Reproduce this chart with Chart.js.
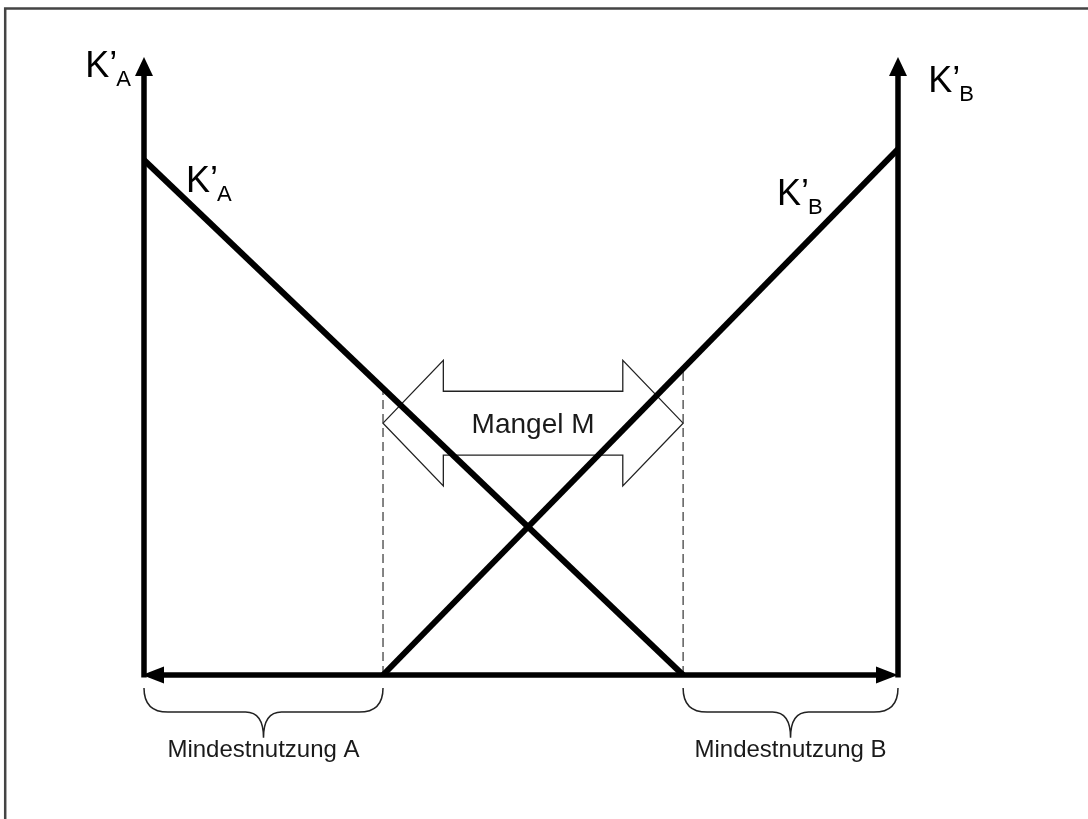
<!DOCTYPE html>
<html>
<head>
<meta charset="utf-8">
<script src="https://cdn.jsdelivr.net/npm/chart.js@4"></script>
<style>
  body { margin: 0; background: #fff; }
  canvas { display: block; }
</style>
</head>
<body>
<canvas id="myChart" width="1088" height="819"></canvas>
<script>
// values in chart units (left axis x=0, right axis x=10, bottom axis y=0)
var axisX = [0, 10];
var axisTop = 12;
var kaX = [0, 7.15];
var kaY = [10, 0];
var kbX = [3.17, 10];
var kbY = [0, 10.21];
var dashX = [3.17, 7.15];
var dashTop = [5.57, 5.95];
var mangelY = 4.89;
var mangelHead = 1.22;
var mangelShaft = 0.62;
var mangelHeadLen = 0.8;
var braceFrom = [0, 7.15];
var braceTo = [3.17, 10];
var braceLabels = ["Mindestnutzung A", "Mindestnutzung B"];
var mangelLabel = "Mangel M";
// [text, subscript, x, y]
var kLabels = [
    ["K\u2019", "A", -0.78, 11.61],
    ["K\u2019", "B", 10.40, 11.32],
    ["K\u2019", "A", 0.557, 9.38],
    ["K\u2019", "B", 8.395, 9.13]
];

var FONT = "'Liberation Sans', Arial, sans-serif";

function pts(xs, ys) {
    var out = [];
    for (var i = 0; i < xs.length; i++) {
        out.push({ x: xs[i], y: ys[i] });
    }
    return out;
}

var drawPlugin = {
    id: "drawPlugin",
    beforeDatasetsDraw: function (chart) {
        var ctx = chart.ctx;
        var sx = chart.scales.x, sy = chart.scales.y;
        function px(v) { return sx.getPixelForValue(v); }
        function py(v) { return sy.getPixelForValue(v); }

        ctx.save();
        // frame
        ctx.strokeStyle = "#444";
        ctx.lineWidth = 2.5;
        ctx.beginPath();
        ctx.moveTo(5.2, 819);
        ctx.lineTo(5.2, 8.5);
        ctx.lineTo(1088, 8.5);
        ctx.stroke();

        // hollow double arrow "Mangel M"
        var l = dashX[0], r = dashX[1];
        var poly = [
            [l, mangelY],
            [l + mangelHeadLen, mangelY + mangelHead],
            [l + mangelHeadLen, mangelY + mangelShaft],
            [r - mangelHeadLen, mangelY + mangelShaft],
            [r - mangelHeadLen, mangelY + mangelHead],
            [r, mangelY],
            [r - mangelHeadLen, mangelY - mangelHead],
            [r - mangelHeadLen, mangelY - mangelShaft],
            [l + mangelHeadLen, mangelY - mangelShaft],
            [l + mangelHeadLen, mangelY - mangelHead]
        ];
        ctx.strokeStyle = "#222";
        ctx.lineWidth = 1.3;
        ctx.beginPath();
        for (var i = 0; i < poly.length; i++) {
            var X = px(poly[i][0]), Y = py(poly[i][1]);
            if (i == 0) ctx.moveTo(X, Y); else ctx.lineTo(X, Y);
        }
        ctx.closePath();
        ctx.stroke();

        ctx.fillStyle = "#1a1a1a";
        ctx.font = "28px " + FONT;
        ctx.textAlign = "center";
        ctx.textBaseline = "alphabetic";
        ctx.fillText(mangelLabel, px((l + r) / 2), py(mangelY) + 10);
        ctx.restore();
    },
    afterDatasetsDraw: function (chart) {
        var ctx = chart.ctx;
        var sx = chart.scales.x, sy = chart.scales.y;
        function px(v) { return sx.getPixelForValue(v); }
        function py(v) { return sy.getPixelForValue(v); }

        ctx.save();
        ctx.fillStyle = "#000";
        ctx.strokeStyle = "#000";

        // vertical axes with arrow heads
        for (var i = 0; i < axisX.length; i++) {
            var ax = px(axisX[i]);
            var tip = py(axisTop);
            ctx.lineWidth = 5.5;
            ctx.beginPath();
            ctx.moveTo(ax, py(0) + 2.5);
            ctx.lineTo(ax, tip + 16);
            ctx.stroke();
            ctx.beginPath();
            ctx.moveTo(ax, tip);
            ctx.lineTo(ax - 9, tip + 19);
            ctx.lineTo(ax + 9, tip + 19);
            ctx.closePath();
            ctx.fill();
        }

        // horizontal axis, arrows both ends
        var yb = py(0);
        var xl = px(axisX[0]), xr = px(axisX[1]);
        ctx.lineWidth = 5.5;
        ctx.beginPath();
        ctx.moveTo(xl + 18, yb);
        ctx.lineTo(xr - 18, yb);
        ctx.stroke();
        ctx.beginPath();
        ctx.moveTo(xl - 2, yb);
        ctx.lineTo(xl + 20, yb - 8.5);
        ctx.lineTo(xl + 20, yb + 8.5);
        ctx.closePath();
        ctx.fill();
        ctx.beginPath();
        ctx.moveTo(xr, yb);
        ctx.lineTo(xr - 22, yb - 8.5);
        ctx.lineTo(xr - 22, yb + 8.5);
        ctx.closePath();
        ctx.fill();

        // curly braces under the axis
        ctx.strokeStyle = "#222";
        ctx.lineWidth = 1.5;
        var yTop = py(-0.25), yMid = py(-0.72), yTip = py(-1.22);
        ctx.font = "24px " + FONT;
        ctx.textAlign = "center";
        ctx.textBaseline = "alphabetic";
        ctx.fillStyle = "#1a1a1a";
        for (var j = 0; j < braceFrom.length; j++) {
            var a = px(braceFrom[j]), b = px(braceTo[j]);
            var c = (a + b) / 2;
            ctx.beginPath();
            ctx.moveTo(a, yTop);
            ctx.quadraticCurveTo(a, yMid, a + 24, yMid);
            ctx.lineTo(c - 18, yMid);
            ctx.quadraticCurveTo(c, yMid, c, yTip);
            ctx.quadraticCurveTo(c, yMid, c + 18, yMid);
            ctx.lineTo(b - 24, yMid);
            ctx.quadraticCurveTo(b, yMid, b, yTop);
            ctx.stroke();
            ctx.fillText(braceLabels[j], c, py(-1.6));
        }

        // K' labels with subscripts
        ctx.fillStyle = "#000";
        ctx.textAlign = "left";
        for (var k = 0; k < kLabels.length; k++) {
            var lx = px(kLabels[k][2]), ly = py(kLabels[k][3]);
            ctx.font = "36px " + FONT;
            ctx.fillText(kLabels[k][0], lx, ly);
            var w = ctx.measureText(kLabels[k][0]).width;
            ctx.font = "22px " + FONT;
            ctx.fillText(kLabels[k][1], lx + w - 1, ly + 9);
        }
        ctx.restore();
    }
};

var chart = new Chart(document.getElementById("myChart"), {
    type: "scatter",
    data: {
        datasets: [{
            label: "K'A",
            data: pts(kaX, kaY),
            showLine: true,
            borderColor: "#000",
            borderWidth: 6,
            pointRadius: 0
        }, {
            label: "K'B",
            data: pts(kbX, kbY),
            showLine: true,
            borderColor: "#000",
            borderWidth: 6,
            pointRadius: 0
        }, {
            label: "Mindestnutzung A",
            data: pts([dashX[0], dashX[0]], [0, dashTop[0]]),
            showLine: true,
            borderColor: "#333",
            borderWidth: 1.2,
            borderDash: [9, 5],
            pointRadius: 0
        }, {
            label: "Mindestnutzung B",
            data: pts([dashX[1], dashX[1]], [0, dashTop[1]]),
            showLine: true,
            borderColor: "#333",
            borderWidth: 1.2,
            borderDash: [9, 5],
            pointRadius: 0
        }]
    },
    options: {
        responsive: false,
        animation: false,
        layout: { padding: 0, autoPadding: false },
        plugins: {
            legend: { display: false },
            tooltip: { enabled: false }
        },
        scales: {
            x: { type: "linear", display: false, min: -1.9098, max: 12.5199 },
            y: { type: "linear", display: false, min: -2.7961, max: 13.1068 }
        }
    },
    plugins: [drawPlugin]
});
</script>
</body>
</html>
